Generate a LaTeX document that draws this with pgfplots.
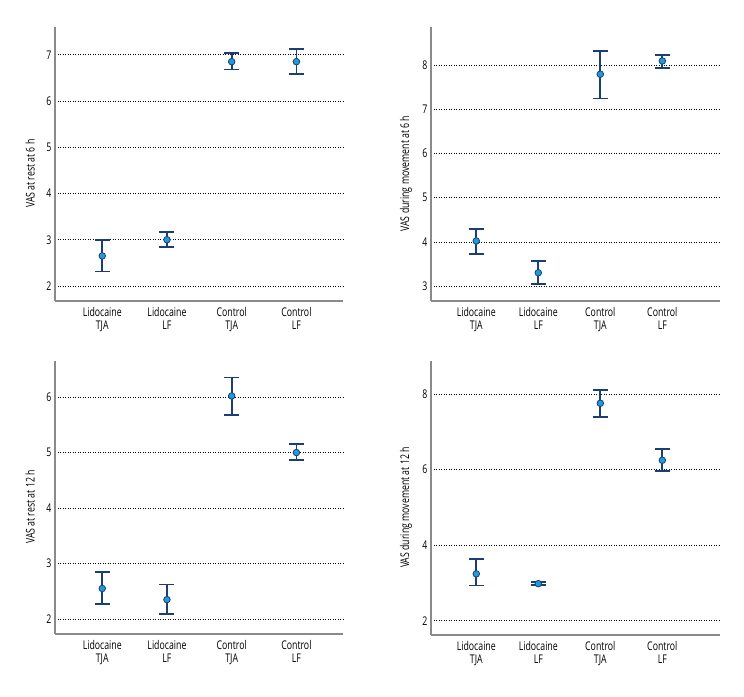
\documentclass[border=0pt]{standalone}
\usepackage{pgfplots}
\pgfplotsset{compat=1.18}
\usepackage{fontspec}
\setmainfont{Open Sans}[FakeStretch=0.73]
\definecolor{navy}{HTML}{1B3F73}
\definecolor{dotblue}{HTML}{1E9BDD}
\definecolor{axgray}{HTML}{8A8A8A}
\newcommand{\lblfont}{\fontsize{12}{12.5}\selectfont}
\pgfplotsset{
  vasaxis/.style={
    scale only axis,
    axis x line*=bottom, axis y line*=left,
    axis line style={axgray, line width=1.2pt, -},
    major tick length=0pt,
    xtick={0,1,2,3},
    xticklabels={{Lidocaine\\TJA},{Lidocaine\\LF},{Control\\TJA},{Control\\LF}},
    xticklabel style={align=center, font=\lblfont, yshift=-3pt},
    yticklabel style={font=\lblfont},
    /pgf/number format/assume math mode=true,
    ymajorgrids,
    major grid style={black, line width=0.7pt, dash pattern=on 1.2pt off 1.3pt},
    ylabel style={at={(axis description cs:0,0.465)}, yshift=25pt, anchor=center, font=\lblfont},
    clip=false,
  },
  vasplot/.style={
    only marks,
    mark=*, mark size=3.3pt,
    mark options={fill=dotblue, draw=navy, line width=0.8pt},
    error bars/.cd, y dir=both, y explicit,
    error bar style={navy, line width=1.7pt},
    error mark options={rotate=90, mark size=7.5pt, navy, line width=1.7pt},
  },
}
\begin{document}
\begin{tikzpicture}
\path[use as bounding box] (0pt,0pt) rectangle (744pt,696pt);
% top-left
\begin{axis}[vasaxis, at={(55pt,395pt)}, anchor=south west, width=288pt, height=274pt,
  xmin=-0.73, xmax=3.72, ymin=1.675, ymax=7.6, ytick={2,3,4,5,6,7},
  ylabel={VAS at rest at 6 h}]
\addplot[vasplot] table[x=x, y=y, y error plus=ep, y error minus=em] {
x y ep em
0 2.65 0.35 0.34
1 3.00 0.17 0.15
2 6.85 0.19 0.17
3 6.85 0.28 0.26
};
\end{axis}
% top-right
\begin{axis}[vasaxis, at={(431pt,395pt)}, anchor=south west, width=289pt, height=274pt,
  xmin=-0.73, xmax=3.93, ymin=2.66, ymax=8.87, ytick={3,4,5,6,7,8},
  ylabel={VAS during movement at 6 h}]
\addplot[vasplot] table[x=x, y=y, y error plus=ep, y error minus=em] {
x y ep em
0 4.02 0.27 0.30
1 3.30 0.27 0.25
2 7.80 0.52 0.55
3 8.10 0.13 0.16
};
\end{axis}
% bottom-left
\begin{axis}[vasaxis, at={(55pt,62pt)}, anchor=south west, width=288pt, height=273pt,
  xmin=-0.73, xmax=3.72, ymin=1.73, ymax=6.65, ytick={2,3,4,5,6},
  ylabel={VAS at rest at 12 h}]
\addplot[vasplot] table[x=x, y=y, y error plus=ep, y error minus=em] {
x y ep em
0 2.55 0.30 0.28
1 2.35 0.27 0.26
2 6.02 0.33 0.34
3 5.00 0.15 0.14
};
\end{axis}
% bottom-right
\begin{axis}[vasaxis, at={(431pt,61pt)}, anchor=south west, width=289pt, height=274pt,
  xmin=-0.73, xmax=3.93, ymin=1.62, ymax=8.88, ytick={2,4,6,8},
  ylabel={VAS during movement at 12 h}]
\addplot[vasplot] table[x=x, y=y, y error plus=ep, y error minus=em] {
x y ep em
0 3.24 0.40 0.31
1 2.98 0.04 0.03
2 7.76 0.36 0.37
3 6.25 0.30 0.29
};
\end{axis}
\end{tikzpicture}
\end{document}
